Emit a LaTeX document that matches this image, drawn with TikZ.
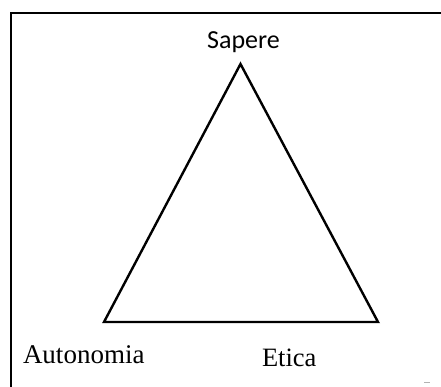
\documentclass[tikz,border=0pt]{standalone}
\usepackage{fontspec}
\newfontfamily\calibfont{Carlito}
\newfontfamily\timesfont{Liberation Serif}
\begin{document}
\begin{tikzpicture}[x=1pt,y=-1pt,
  lbl/.style={inner sep=0pt,outer sep=0pt},
  edge/.style={line width=2.4pt,line join=miter}]
\useasboundingbox (0,0) rectangle (441,387);
\draw[line width=2pt] (441,13) -- (11,13) -- (11,388);
\coordinate (top) at (240.5,64);
\coordinate (bl) at (104,322);
\coordinate (br) at (378,322);
\draw[edge] (top) -- (br) -- (bl) -- cycle;
\node[lbl,anchor=base] (sapere) at (243.5,49) {\calibfont\fontsize{26}{30}\selectfont Sapere};
\node[lbl,anchor=base west] (auto) at (23,363) {\timesfont\fontsize{27}{31}\selectfont Autonomia};
\node[lbl,anchor=base west] (etica) at (262,366) {\timesfont\fontsize{26.5}{30}\selectfont Etica};
\draw[gray!60,line width=0.8pt] (424,382) -- (430,382);
\end{tikzpicture}
\end{document}
